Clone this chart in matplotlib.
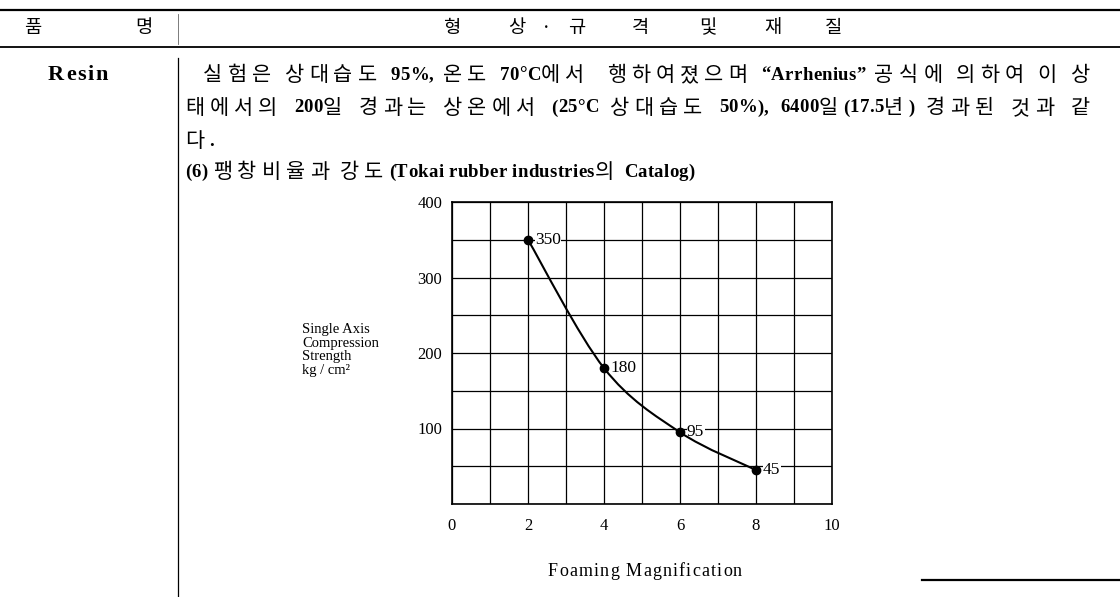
import matplotlib
matplotlib.use("Agg")
import matplotlib.pyplot as plt
from matplotlib.path import Path
from matplotlib.patches import PathPatch
from matplotlib.lines import Line2D
from matplotlib.ticker import MultipleLocator
from matplotlib.font_manager import FontProperties

# chart data
foaming = [2, 4, 6, 8]
strength = [350, 180, 95, 45]
x_ticks = [0, 2, 4, 6, 8, 10]
y_ticks = [100, 200, 300, 400]

# page text
header_left = ["품", "명"]
header_right = ["형", "상", "·", "규", "격", "및", "재", "질"]
body_lines = [
    "실험은 상대습도 95%, 온도 70°C에서  행하여졌으며 “Arrhenius” 공식에 의하여 이 상",
    "태에서의 200일 경과는 상온에서 (25°C 상대습도 50%), 6400일(17.5년) 경과된 것과 같",
    "다.",
    "(6) 팽창비율과 강도(Tokai rubber industries의 Catalog)",
]

W, H = 1120, 597
fig = plt.figure(figsize=(W / 100, H / 100), dpi=100)
renderer = fig.canvas.get_renderer()

KO = FontProperties(family="Noto Sans CJK KR", size=15)
LA = FontProperties(family="Liberation Serif", size=13.5, weight="bold")
LA_TRACK = 0.3


def px(x, y):
    return x / W, 1 - y / H


def hline(y, x0, x1, lw):
    fig.add_artist(Line2D([x0 / W, x1 / W], [1 - y / H, 1 - y / H],
                          transform=fig.transFigure, color="black", lw=lw))


def vline(x, y0, y1, lw, color="black"):
    fig.add_artist(Line2D([x / W, x / W], [1 - y0 / H, 1 - y1 / H],
                          transform=fig.transFigure, color=color, lw=lw))


def is_hangul(ch):
    return 0xAC00 <= ord(ch) <= 0xD7A3 or 0x3130 <= ord(ch) <= 0x318F


def advance(ch, prop):
    w1 = renderer.get_text_width_height_descent("|" + ch + "|", prop, ismath=False)[0]
    w0 = renderer.get_text_width_height_descent("||", prop, ismath=False)[0]
    return w1 - w0


def natural(text):
    # width of a line without hangul tracking, and its hangul count
    w = sum(advance(c, KO) if is_hangul(c) else advance(c, LA) + LA_TRACK
            for c in text)
    return w, sum(is_hangul(c) for c in text)


def body_line(text, x, y, ko_track, width=None):
    # hangul in Noto CJK, latin in bold serif; justify by widening spaces
    props = [KO if is_hangul(c) else LA for c in text]
    advs = [advance(c, p) + (ko_track if is_hangul(c) else LA_TRACK)
            for c, p in zip(text, props)]
    extra = 0.0
    if width is not None and text.count(" "):
        extra = (width - sum(advs)) / text.count(" ")
    cx = x
    for c, p, a in zip(text, props, advs):
        if c == " ":
            cx += extra
        else:
            fig.text(*px(cx, y), c, fontproperties=p, ha="left", va="center")
        cx += a


def tracked(text, x, y, size, width, weight="normal"):
    prop = FontProperties(family="Liberation Serif", size=size, weight=weight)
    advs = [advance(c, prop) for c in text]
    track = (width - sum(advs)) / max(len(text) - 1, 1)
    cx = x
    for c, a in zip(text, advs):
        if c != " ":
            fig.text(*px(cx, y), c, fontproperties=prop, ha="left", va="center")
        cx += a + track


# table rules
hline(10, 0, W, 1.6)
hline(47, 0, W, 1.3)
hline(580, 922, W, 1.6)
vline(178, 14, 44, 0.6, color="0.4")
vline(178, 58, H, 0.9)

# header
for ch, x in zip(header_left, [33, 144]):
    fig.text(*px(x, 28), ch, family="Noto Sans CJK KR", fontsize=13.5,
             ha="center", va="center")
for ch, x in zip(header_right, [453, 517, 546, 577, 640, 708, 773, 833]):
    fig.text(*px(x, 28), ch, family="Noto Sans CJK KR", fontsize=13.5,
             ha="center", va="center")

tracked("Resin", 48, 75, 16, 60, weight="bold")

# hangul tracking so that the caption line ends where the print does
w4, n4 = natural(body_lines[3])
ko_track = (510 - w4) / n4
body_line(body_lines[0], 203, 75, ko_track, width=892)
body_line(body_lines[1], 185, 108, ko_track, width=910)
body_line(body_lines[2], 185, 141, ko_track)
body_line(body_lines[3], 185, 172, ko_track)

# chart
ax = fig.add_axes([452 / W, 1 - 504 / H, 380 / W, 302 / H])
ax.set_xlim(0, 10)
ax.set_ylim(0, 400)
ax.xaxis.set_minor_locator(MultipleLocator(1))
ax.yaxis.set_minor_locator(MultipleLocator(50))
ax.grid(which="both", color="black", lw=0.9)
ax.set_xticks(x_ticks)
ax.set_yticks(y_ticks)
ax.tick_params(which="both", length=0, labelsize=12)
ax.tick_params(axis="x", pad=10)
ax.tick_params(axis="y", pad=7)
for lab in ax.get_xticklabels() + ax.get_yticklabels():
    lab.set_family("Liberation Serif")
for s in ax.spines.values():
    s.set_linewidth(1.2)

# smooth curve through the points (Catmull-Rom as cubic Bezier)
pts = list(zip(foaming, strength))
ext = [pts[0]] + pts + [pts[-1]]
verts = [pts[0]]
codes = [Path.MOVETO]
for i in range(1, len(ext) - 2):
    p0, p1, p2, p3 = ext[i - 1], ext[i], ext[i + 1], ext[i + 2]
    c1 = (p1[0] + (p2[0] - p0[0]) / 6, p1[1] + (p2[1] - p0[1]) / 6)
    c2 = (p2[0] - (p3[0] - p1[0]) / 6, p2[1] - (p3[1] - p1[1]) / 6)
    verts += [c1, c2, p2]
    codes += [Path.CURVE4] * 3
ax.add_patch(PathPatch(Path(verts, codes), fill=False, lw=1.5,
                       color="black", zorder=4))
ax.plot(foaming, strength, "o", color="black", ms=6, zorder=5)
for x, y in zip(foaming, strength):
    ax.annotate(str(y), (x, y), xytext=(5, 0), textcoords="offset points",
                family="Liberation Serif", fontsize=12.5, va="center",
                ha="left", zorder=3,
                bbox=dict(fc="white", ec="none", pad=0.3))

fig.text(*px(302, 350), "Single Axis\nCompression\nStrength\nkg / cm²",
         family="Liberation Serif", fontsize=10.5, ha="left", va="center",
         linespacing=1.05)
tracked("Foaming Magnification", 548, 572, 13, 194)

fig.savefig("out.png", dpi=100, facecolor="white")
